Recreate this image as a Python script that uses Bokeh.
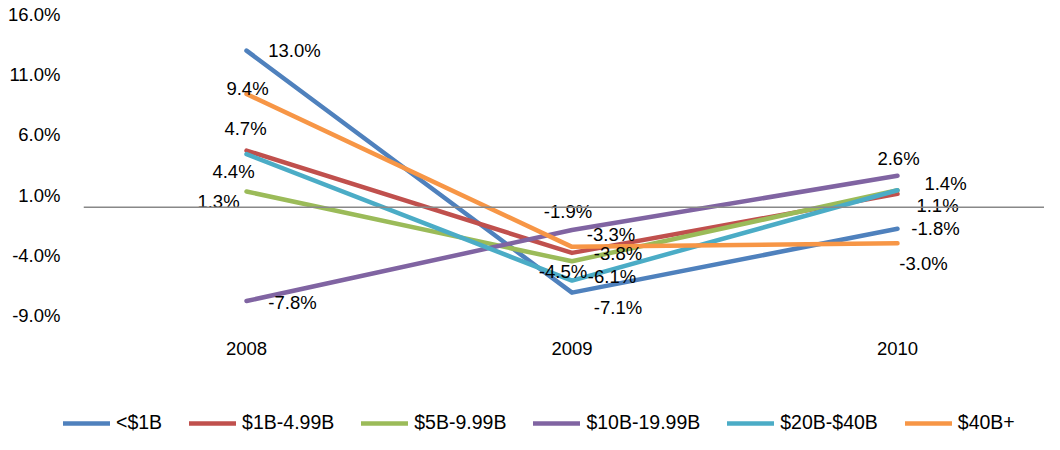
from bokeh.plotting import figure
from bokeh.layouts import column
from bokeh.models import Range1d, FixedTicker, PrintfTickFormatter, Span, ColumnDataSource
from bokeh.core.properties import value
from bokeh.embed import file_html
from bokeh.resources import INLINE

# ---- data ----
years = ["2008", "2009", "2010"]
series_names = ["<$1B", "$1B-4.99B", "$5B-9.99B", "$10B-19.99B", "$20B-$40B", "$40B+"]
lt1b = [13.0, -7.1, -1.8]
b1_499 = [4.7, -3.8, 1.1]
b5_999 = [1.3, -4.5, 1.4]
b10_1999 = [-7.8, -1.9, 2.6]
b20_40 = [4.4, -6.1, 1.4]
b40plus = [9.4, -3.3, -3.0]
y_ticks = [-9, -4, 1, 6, 11, 16]

series_values = [lt1b, b1_499, b5_999, b10_1999, b20_40, b40plus]
colors = ["#4F81BD", "#C0504D", "#9BBB59", "#8064A2", "#4BACC6", "#F79646"]

# label placement (screen px offsets from each point), None = label hidden
label_offsets = [
    [(48, 0), (46, 15), (38, 0)],
    [(-1, -22), (46, 1), (40, 12)],
    [(-28, 10), (-9, 10), (48, -7)],
    [(46, 1), (-4, -19), (1, -17)],
    [(-13, 17), (40, -4), None],
    [(1, -5), (39, -12), (26, 20)],
]

FONT = "Liberation Sans"
FS = "18.5px"
LW = 4.5

p = figure(width=1044, height=404, output_backend="svg", toolbar_location=None, title=None,
           x_range=Range1d(-0.5008, 2.4516), y_range=Range1d(-9, 16),
           min_border_left=83, min_border_right=0, min_border_top=14, min_border_bottom=89)
p.outline_line_color = None
p.xgrid.visible = False
p.ygrid.visible = False

xs = list(range(len(years)))
for name, vals, col in zip(series_names, series_values, colors):
    p.line(xs, vals, line_color=col, line_width=LW, line_cap="round", line_join="round")

p.add_layout(Span(location=0, dimension="width", line_color="#888888", line_width=1.5))

lx, ly, lt, ldx, ldy = [], [], [], [], []
for vals, offs in zip(series_values, label_offsets):
    for i, (v, o) in enumerate(zip(vals, offs)):
        if o is None:
            continue
        lx.append(i)
        ly.append(v)
        lt.append("%.1f%%" % v)
        ldx.append(o[0])
        ldy.append(o[1])
src = ColumnDataSource(dict(x=lx, y=ly, text=lt, dx=ldx, dy=ldy))
p.text(x="x", y="y", text="text", x_offset="dx", y_offset="dy", source=src,
       text_font=value(FONT), text_font_size=FS, text_color="#000000",
       text_align="center", text_baseline="middle")

# axes
p.yaxis.ticker = FixedTicker(ticks=y_ticks)
p.yaxis.formatter = PrintfTickFormatter(format="%.1f%%")
p.xaxis.ticker = FixedTicker(ticks=xs)
p.xaxis.major_label_overrides = {i: y for i, y in enumerate(years)}
for ax in (p.xaxis[0], p.yaxis[0]):
    ax.axis_line_color = None
    ax.major_tick_line_color = None
    ax.minor_tick_line_color = None
    ax.major_tick_out = 0
    ax.major_tick_in = 0
    ax.minor_tick_out = 0
    ax.minor_tick_in = 0
    ax.major_label_text_font = FONT
    ax.major_label_text_font_size = FS
    ax.major_label_text_color = "#000000"
p.yaxis.major_label_standoff = 23
p.xaxis.major_label_standoff = 26

# legend strip: same series drawn in a second figure whose y-range lies
# outside the data, so only its legend is visible
p2 = figure(width=1044, height=30, output_backend="svg", toolbar_location=None, title=None,
            x_range=Range1d(0, 2), y_range=Range1d(100, 101),
            x_axis_location=None, y_axis_location=None,
            min_border_left=0, min_border_right=0, min_border_top=0, min_border_bottom=0)
p2.outline_line_color = None
p2.xgrid.visible = False
p2.ygrid.visible = False
for name, vals, col in zip(series_names, series_values, colors):
    p2.line(xs, vals, line_color=col, line_width=LW, line_cap="round", legend_label=name)

lg = p2.legend[0]
lg.orientation = "horizontal"
lg.location = (63, 0)
lg.padding = 0
lg.margin = 0
lg.spacing = 27
lg.glyph_width = 47
lg.glyph_height = 20
lg.label_height = 20
lg.label_standoff = 6
lg.border_line_color = None
lg.background_fill_alpha = 0
lg.label_text_font = FONT
lg.label_text_font_size = "19.5px"
lg.label_text_color = "#000000"

layout = column(p, column(p2, spacing=0), spacing=0)
open("out.html", "w").write(file_html(layout, INLINE))
